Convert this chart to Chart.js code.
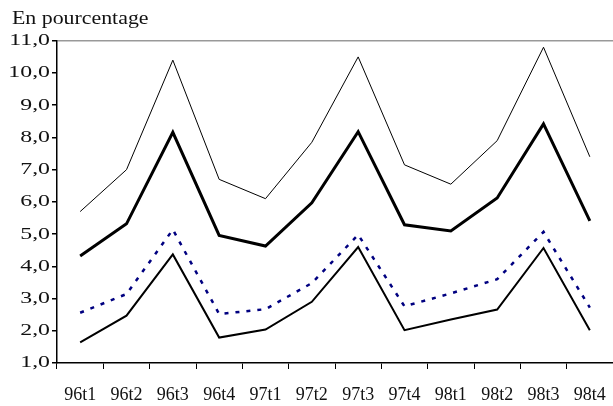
<!DOCTYPE html>
<html lang="fr">
<head>
  <meta charset="UTF-8">
  <title>En pourcentage</title>
  <script src="https://cdn.jsdelivr.net/npm/chart.js"></script>
  <style>
    body { margin: 0; padding: 0; background: #fff; }
    .wrap { width: 613px; height: 406px; }
  </style>
</head>
<body>
  <div class="wrap"><canvas id="chart" width="613" height="406"></canvas></div>

  <script>
    // Trimestres
    const labels = ['96t1', '96t2', '96t3', '96t4', '97t1', '97t2', '97t3', '97t4', '98t1', '98t2', '98t3', '98t4'];

    // Series (en pourcentage)
    const serieHaute = [5.7, 7.0, 10.4, 6.7, 6.1, 7.85, 10.5, 7.15, 6.55, 7.9, 10.8, 7.4];
    const serieEpaisse = [4.32, 5.32, 8.16, 4.96, 4.63, 5.97, 8.18, 5.29, 5.1, 6.12, 8.42, 5.41];
    const seriePointillee = [2.56, 3.14, 5.14, 2.52, 2.67, 3.48, 4.98, 2.76, 3.16, 3.6, 5.07, 2.72];
    const serieBasse = [1.64, 2.47, 4.37, 1.79, 2.04, 2.9, 4.6, 2.02, 2.35, 2.66, 4.57, 2.02];

    const yMin = 1;
    const yMax = 11;

    const serif = "'Liberation Serif', 'Times New Roman', serif";

    // the original text is stretched sideways, so draw the y labels and title
    // with a horizontal scale anchored at their aligned edge
    const wideText = {
      id: 'wideText',
      beforeDraw(chart) {
        const ctx = chart.ctx;
        const wrap = (obj, name, anchor, sx) => {
          if (!obj || obj['_wide_' + name]) return;
          const orig = obj[name];
          obj[name] = function (...args) {
            const x = anchor(this);
            ctx.save();
            ctx.translate(x, 0);
            ctx.scale(sx, 1);
            ctx.translate(-x, 0);
            orig.apply(this, args);
            ctx.restore();
          };
          obj['_wide_' + name] = true;
        };
        const y = chart.scales.y;
        wrap(y, 'drawLabels', s => s.right - s.options.grid.tickLength - s.options.ticks.padding, 1.4);
        wrap(chart.titleBlock, 'draw', s => s.left, 1.15);
      }
    };

    new Chart(document.getElementById('chart'), {
      type: 'line',
      data: {
        labels: labels,
        datasets: [
          { data: serieHaute, borderColor: '#000', borderWidth: 1 },
          { data: serieEpaisse, borderColor: '#000', borderWidth: 3 },
          { data: seriePointillee, borderColor: '#000080', borderWidth: 2.5, borderDash: [4, 7] },
          { data: serieBasse, borderColor: '#000', borderWidth: 2 }
        ]
      },
      plugins: [wideText],
      options: {
        responsive: false,
        animation: false,
        elements: {
          point: { radius: 0, hoverRadius: 0 },
          line: { tension: 0, fill: false }
        },
        layout: { padding: { left: 12, right: 0, top: 8, bottom: 0 } },
        plugins: {
          legend: { display: false },
          tooltip: { enabled: false },
          title: {
            display: true,
            text: 'En pourcentage',
            align: 'start',
            color: '#111',
            font: { family: serif, size: 19, weight: 'normal' },
            padding: { top: 0, bottom: 10 }
          }
        },
        scales: {
          x: {
            offset: true,
            grid: {
              offset: true,
              drawOnChartArea: false,
              tickLength: 6,
              tickColor: '#000'
            },
            border: { color: '#000', width: 1.5 },
            ticks: {
              color: '#111',
              font: { family: serif, size: 18 },
              padding: 15,
              maxRotation: 0,
              autoSkip: false
            },
            afterFit: scale => {
              scale.height = 43;
              scale.paddingLeft = 0;
              scale.paddingRight = 0;
            }
          },
          y: {
            min: yMin,
            max: yMax,
            grid: {
              color: ctx => ctx.tick && ctx.tick.value === yMax ? '#999' : 'rgba(0,0,0,0)',
              tickColor: '#000',
              tickLength: 5,
              lineWidth: 1.5
            },
            border: { color: '#000', width: 1.5 },
            ticks: {
              stepSize: 1,
              color: '#111',
              padding: 2,
              font: { family: serif, size: 17 },
              callback: v => v.toFixed(1).replace('.', ',')
            },
            afterFit: scale => { scale.width = 45; }
          }
        }
      }
    });
  </script>
</body>
</html>
